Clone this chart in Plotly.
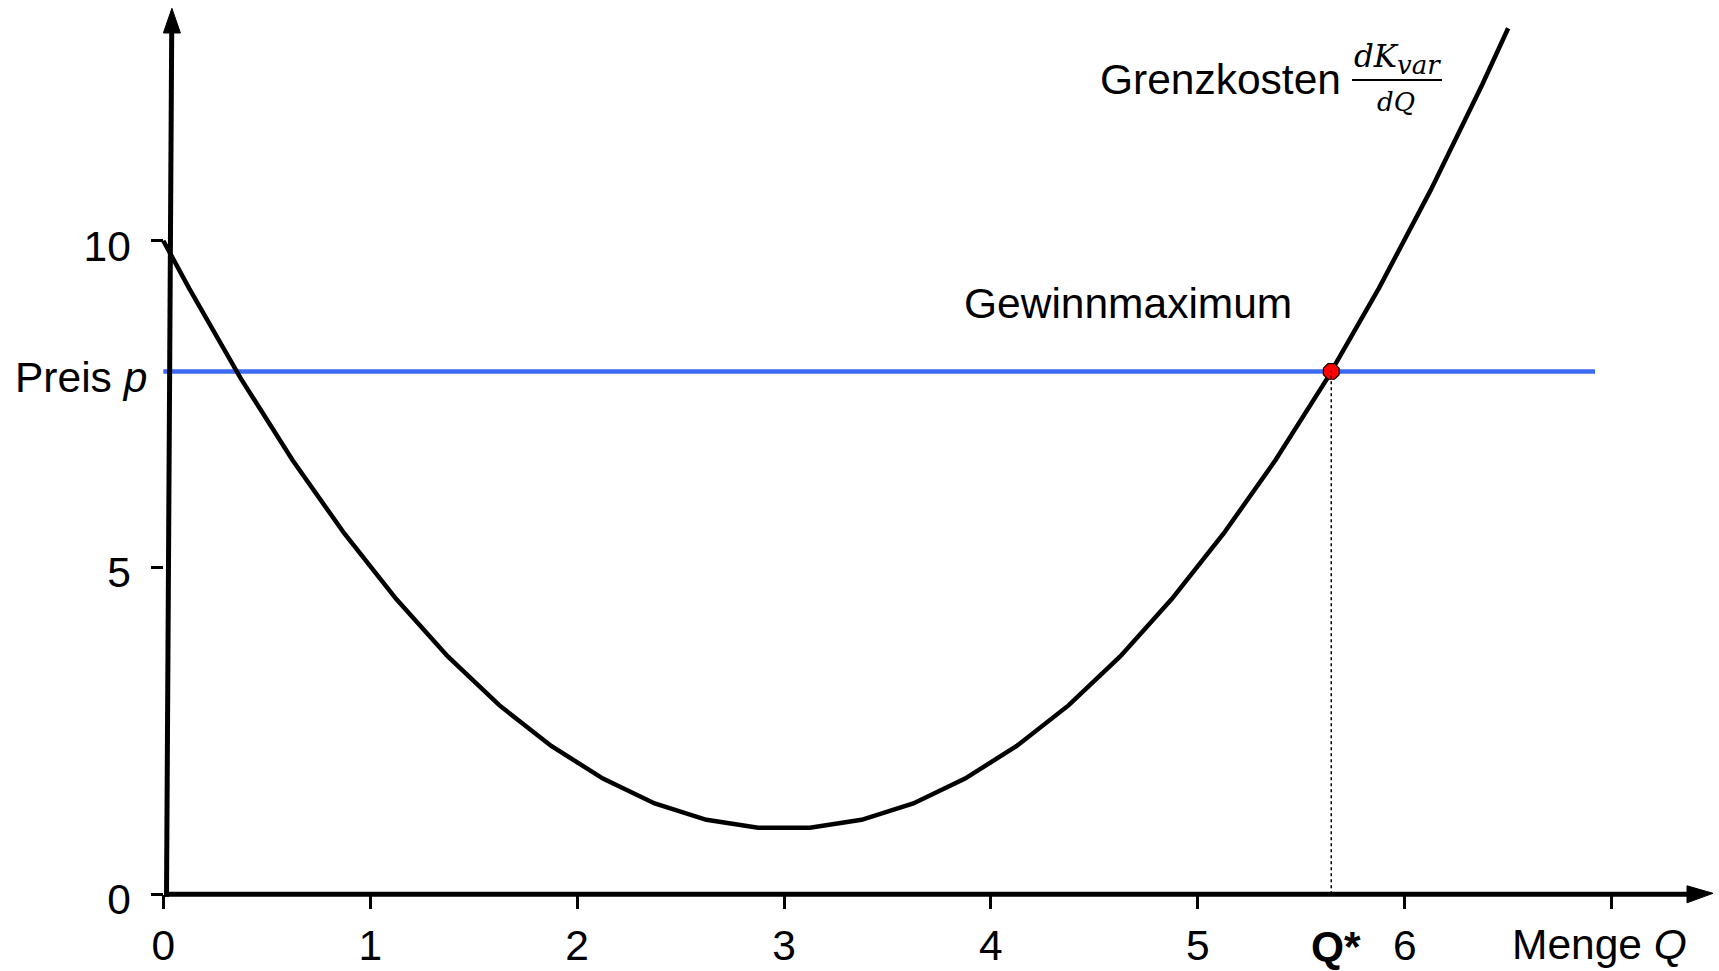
import plotly.graph_objects as go

# ---------------- data ----------------
Q = [0, 0.125, 0.375, 0.625, 0.875, 1.125, 1.375, 1.625, 1.875, 2.125, 2.375, 2.625,
     2.875, 3.125, 3.375, 3.625, 3.875, 4.125, 4.375, 4.625, 4.875, 5.125, 5.375,
     5.625, 5.875, 6.125, 6.375, 6.5]
MC = [10.0, 9.27, 7.89, 6.64, 5.52, 4.52, 3.64, 2.89, 2.27, 1.77, 1.39, 1.14,
      1.02, 1.02, 1.14, 1.39, 1.77, 2.27, 2.89, 3.64, 4.52, 5.52, 6.64,
      7.89, 9.27, 10.77, 12.39, 13.25]
price = 8.0
q_star = 5.645
price_line = [0, 6.92]
x_ticks = [0, 1, 2, 3, 4, 5, 6]
x_tick_labels = ["0", "1", "2", "3", "4", "5", "6"]
x_minor_ticks = [7]
y_ticks = [0, 5, 10]
y_tick_labels = ["0", "5", "10"]

# ---------------- layout geometry ----------------
W, H = 1719, 971
X0PX, XUNIT = 163.3, 206.9     # pixel of x=0, pixels per x unit
Y0PX, YUNIT = 894.3, 65.36     # pixel of y=0, pixels per y unit


def px2x(px):
    return (px - X0PX) / XUNIT


def px2y(py):
    return (Y0PX - py) / YUNIT


def dx(px):
    return px / XUNIT


def dy(py):
    return py / YUNIT


FONT = "Liberation Sans, Arial, Helvetica, sans-serif"
SERIF = "DejaVu Serif, Liberation Serif, serif"
FS = 42.5

fig = go.Figure()

# price line
fig.add_trace(go.Scatter(x=price_line, y=[price, price], mode="lines",
                         line=dict(color="#3d6af2", width=4.5),
                         hoverinfo="skip", showlegend=False))
# marginal cost curve
fig.add_trace(go.Scatter(x=Q, y=MC, mode="lines",
                         line=dict(color="black", width=4.5),
                         hoverinfo="skip", showlegend=False))
# profit maximum point
fig.add_trace(go.Scatter(x=[q_star], y=[price], mode="markers",
                         marker=dict(color="#ff0000", size=17, symbol="octagon",
                                     line=dict(color="black", width=1.2)),
                         hoverinfo="skip", showlegend=False))

shapes = []
# dotted drop line
shapes.append(dict(type="line", xref="x", yref="y", x0=q_star, x1=q_star,
                   y0=0, y1=price, line=dict(color="black", width=1.5, dash="dot")))
# y axis (slightly tilted, like the hand-drawn original)
yb_x, yt_x = dx(3.2), dx(8.4)
y_arrow_base, y_arrow_tip = px2y(33), px2y(8.3)
shapes.append(dict(type="line", xref="x", yref="y", x0=yb_x, y0=-dy(2.5),
                   x1=yt_x, y1=y_arrow_base + dy(2), line=dict(color="black", width=5)))
hw = dx(8.5)
tipx = yt_x + dx(0.2)
shapes.append(dict(type="path", xref="x", yref="y",
                   path=f"M {tipx - hw},{y_arrow_base} L {tipx},{y_arrow_tip} L {tipx + hw},{y_arrow_base} Z",
                   fillcolor="black", line=dict(color="black", width=1)))
# x axis
x_arrow_base, x_arrow_tip = px2x(1687), px2x(1713)
shapes.append(dict(type="line", xref="x", yref="y", x0=yb_x - dx(2.5), y0=0,
                   x1=x_arrow_base + dx(2), y1=0, line=dict(color="black", width=5)))
hh = dy(8.5)
shapes.append(dict(type="path", xref="x", yref="y",
                   path=f"M {x_arrow_base},{-hh} L {x_arrow_tip},{px2y(893.3)} L {x_arrow_base},{hh} Z",
                   fillcolor="black", line=dict(color="black", width=1)))
# fraction bar
shapes.append(dict(type="line", xref="x", yref="y", x0=px2x(1352), x1=px2x(1442),
                   y0=px2y(80), y1=px2y(80), line=dict(color="black", width=2)))

annotations = [
    dict(text="Gewinnmaximum", x=px2x(1128), y=px2y(303.5), xref="x", yref="y",
         showarrow=False, font=dict(family=FONT, size=FS, color="black"),
         xanchor="center", yanchor="middle"),
    dict(text="Grenzkosten", x=px2x(1098), y=px2y(79), xref="x", yref="y",
         showarrow=False, font=dict(family=FONT, size=FS, color="black"),
         xanchor="left", yanchor="middle"),
    dict(text="<i>dK</i><sub><i><span style='font-size:26px'>var</span></i></sub>",
         x=px2x(1397), y=px2y(80), xref="x", yref="y",
         showarrow=False, font=dict(family=SERIF, size=31, color="black"),
         xanchor="center", yanchor="bottom", yshift=-2),
    dict(text="<i>dQ</i>", x=px2x(1396), y=px2y(80), xref="x", yref="y",
         showarrow=False, font=dict(family=SERIF, size=26, color="black"),
         xanchor="center", yanchor="top", yshift=-5),
    dict(text="Preis <i>p</i>", x=px2x(149), y=price, xref="x", yref="y",
         showarrow=False, font=dict(family=FONT, size=FS, color="black"),
         xanchor="right", yanchor="middle", yshift=-6),
    dict(text="<b>Q*</b>", x=q_star, y=px2y(946), xref="x", yref="y",
         showarrow=False, font=dict(family=FONT, size=FS, color="black"),
         xanchor="center", yanchor="middle", xshift=5),
    dict(text="Menge <i>Q</i>", x=px2x(1510), y=px2y(944), xref="x", yref="y",
         showarrow=False, font=dict(family=FONT, size=FS, color="black"),
         xanchor="left", yanchor="middle"),
]

fig.update_layout(
    width=W, height=H, autosize=False,
    margin=dict(l=0, r=0, t=0, b=0, pad=0, autoexpand=False),
    paper_bgcolor="white", plot_bgcolor="white",
    showlegend=False,
    shapes=shapes, annotations=annotations,
    xaxis=dict(range=[px2x(0), px2x(W)], anchor="free", position=(H - Y0PX) / H,
               automargin=False,
               showgrid=False, zeroline=False, showline=False,
               tickmode="array", tickvals=x_ticks, ticktext=x_tick_labels,
               ticks="outside", ticklen=14, tickwidth=3, tickcolor="black",
               minor=dict(tickmode="array", tickvals=x_minor_ticks, ticks="outside",
                          ticklen=14, tickwidth=3, tickcolor="black", showgrid=False),
               tickfont=dict(family=FONT, size=FS, color="black"),
               ticklabelstandoff=0, fixedrange=True),
    yaxis=dict(range=[px2y(H), px2y(0)], anchor="free", position=X0PX / W,
               automargin=False,
               showgrid=False, zeroline=False, showline=False,
               tickmode="array", tickvals=y_ticks, ticktext=y_tick_labels,
               ticks="outside", ticklen=12, tickwidth=3, tickcolor="black",
               tickfont=dict(family=FONT, size=FS, color="black"),
               ticklabelstandoff=12, ticklabelshift=5, fixedrange=True),
)

fig.write_html("out.html", config=dict(displayModeBar=False, responsive=False),
               post_script="document.body.style.margin='0';document.body.style.overflow='hidden';")
